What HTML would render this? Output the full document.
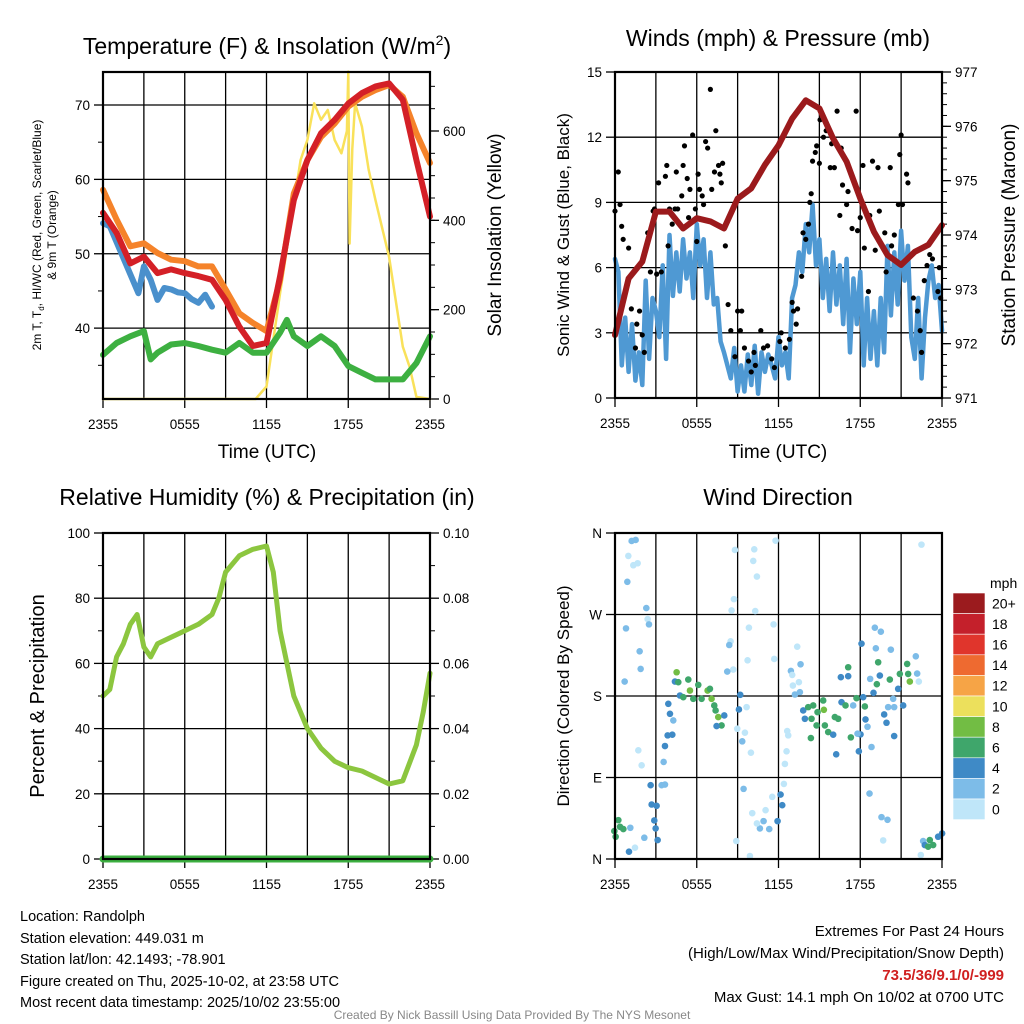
<!DOCTYPE html>
<html><head><meta charset="utf-8"><style>
html,body{margin:0;padding:0;background:#fff;}
svg{display:block;font-family:"Liberation Sans",Arial,sans-serif;}
</style></head><body>
<svg id="fig" width="1024" height="1024" viewBox="0 0 1024 1024" xmlns="http://www.w3.org/2000/svg">
<g id="bg"></g>
<text x="267" y="54" font-size="23" text-anchor="middle">Temperature (F) &amp; Insolation (W/m<tspan font-size="14" dy="-9">2</tspan><tspan dy="9">)</tspan></text>
<text x="778" y="46" font-size="23" text-anchor="middle">Winds (mph) &amp; Pressure (mb)</text>
<text x="267" y="505" font-size="23" text-anchor="middle">Relative Humidity (%) &amp; Precipitation (in)</text>
<text x="778" y="505" font-size="23" text-anchor="middle">Wind Direction</text>

<text transform="translate(41,235) rotate(-90)" font-size="12" text-anchor="middle">2m T, T<tspan font-size="8" dy="3">d</tspan><tspan dy="-3">, HI/WC (Red, Green, Scarlet/Blue)</tspan></text>
<text transform="translate(56,235) rotate(-90)" font-size="12" text-anchor="middle">&amp; 9m T (Orange)</text>
<text transform="translate(501,235) rotate(-90)" font-size="19" text-anchor="middle">Solar Insolation (Yellow)</text>
<text transform="translate(569,235) rotate(-90)" font-size="17" text-anchor="middle">Sonic Wind &amp; Gust (Blue, Black)</text>
<text transform="translate(1015,235) rotate(-90)" font-size="19" text-anchor="middle">Station Pressure (Maroon)</text>
<text transform="translate(44,696) rotate(-90)" font-size="20" text-anchor="middle">Percent &amp; Precipitation</text>
<text transform="translate(569,696) rotate(-90)" font-size="17" text-anchor="middle">Direction (Colored By Speed)</text>
<text x="267" y="458" font-size="19" text-anchor="middle">Time (UTC)</text>
<text x="778" y="458" font-size="19" text-anchor="middle">Time (UTC)</text>

<g font-size="14.5">
<text x="20" y="921">Location: Randolph</text>
<text x="20" y="943">Station elevation: 449.031 m</text>
<text x="20" y="964">Station lat/lon: 42.1493; -78.901</text>
<text x="20" y="986">Figure created on Thu, 2025-10-02, at 23:58 UTC</text>
<text x="20" y="1007">Most recent data timestamp: 2025/10/02 23:55:00</text>
</g>
<g font-size="15" text-anchor="end">
<text x="1004" y="936">Extremes For Past 24 Hours</text>
<text x="1004" y="958">(High/Low/Max Wind/Precipitation/Snow Depth)</text>
<text x="1004" y="980" fill="#d02020" font-weight="bold">73.5/36/9.1/0/-999</text>
<text x="1004" y="1002">Max Gust: 14.1 mph On 10/02 at 0700 UTC</text>
</g>
<text x="512" y="1019" font-size="12" fill="#888" text-anchor="middle">Created By Nick Bassill Using Data Provided By The NYS Mesonet</text>
<g id="plots"></g>
</svg>
<script>
// ---------- Data ----------
const xTickLabels = ["2355","0555","1155","1755","2355"];
const tempHours = [0,1,2,3,4,5,6,7,8,9,10,11,12,13,14,15,16,17,18,19,20,21,22,23,24];
const temp2m = [55.5,52.8,48.7,49.6,47.4,47.9,47.4,47.0,46.5,43.8,40.2,37.6,38.0,47.0,57.2,62.6,66.2,68.0,70.2,71.6,72.5,72.9,70.7,62.6,55.0];
const temp9m = [58.6,54.6,51.0,51.4,50.1,49.2,49.0,48.3,48.3,45.2,42.0,40.7,39.6,46.5,58.1,62.6,65.7,67.5,69.8,71.1,72.0,72.7,71.1,66.2,62.2];
const hiwcHours = [0,0.5,2.6,3,3.5,4,4.5,5,5.5,6,6.5,7,7.5,8];
const hiwc = [54.1,53.7,44.7,48.3,46.5,43.8,45.4,45.2,44.8,44.7,43.9,43.4,44.5,42.9];
const dewHours = [0,1,2,3,3.5,4,5,6,7,8,9,10,11,12,13,13.5,14,15,16,17,18,19,20,21,22,23,24];
const dewpoint = [36.4,38.0,38.9,39.6,35.8,36.7,37.8,38.0,37.6,37.1,36.7,38.0,36.7,36.7,39.4,41.1,38.9,37.6,38.9,37.6,34.9,34.0,33.1,33.1,33.1,35.3,38.9];
const solarHours = [0,11.2,12,13,14,14.5,15,15.5,16,16.5,17,17.5,17.9,18,18.1,18.3,18.5,19,19.5,20,21,22,22.5,23,24];
const solar = [0,0,28,237,438,535,580,662,625,647,580,550,600,733,348,560,662,610,513,445,318,117,72,5,0];

const windHours = [0,0.25,0.5,0.75,1,1.25,1.5,1.75,2,2.25,2.5,2.75,3,3.25,3.5,3.75,4,4.25,4.5,4.75,5,5.25,5.5,5.75,6,6.25,6.5,6.75,7,7.25,7.5,7.75,8,8.25,8.5,8.75,9,9.25,9.5,9.75,10,10.25,10.5,10.75,11,11.25,11.5,11.75,12,12.25,12.5,12.75,13,13.25,13.5,13.75,14,14.25,14.5,14.75,15,15.25,15.5,15.75,16,16.25,16.5,16.75,17,17.25,17.5,17.75,18,18.25,18.5,18.75,19,19.25,19.5,19.75,20,20.25,20.5,20.75,21,21.25,21.5,21.75,22,22.25,22.5,22.75,23,23.25,23.5,23.75,24];
const windSpeed = [6.4,5.8,1.5,3.7,1.2,3.4,0.8,2.1,0.6,5.4,1.8,4.6,4.0,2.8,6.1,1.8,7.5,4.7,6.7,4.9,7.3,5.5,6.7,4.6,8.0,6.1,7.3,4.6,6.7,4.3,4.6,2.6,2.1,1.5,0.9,2.3,0.3,1.5,0.3,2.0,0.6,2.4,0.2,2.1,1.2,2.0,1.5,0.9,2.8,1.5,2.1,0.9,4.6,5.2,6.7,5.8,8.0,6.7,8.9,6.1,7.3,4.6,6.4,4.0,6.7,4.3,6.1,3.4,6.4,2.1,5.5,3.4,5.8,1.5,4.6,1.8,4.0,1.5,4.6,2.1,7.0,3.8,6.7,4.3,7.7,5.4,7.0,2.8,1.8,4.6,0.9,3.7,5.4,6.1,4.6,5.2,3.1];
const gustHours = [0,0.24,0.37,0.49,0.6,1.0,1.2,1.6,1.8,2.0,1.5,2.15,2.4,2.6,2.8,2.9,3.06,3.2,3.4,3.7,3.8,3.9,4.0,4.2,4.4,4.5,4.6,4.9,5.0,5.1,5.3,5.4,5.5,5.7,5.9,6.0,6.1,6.2,6.4,6.5,6.65,6.8,7.0,7.1,7.3,7.4,7.6,7.7,7.8,7.9,8.1,8.3,8.5,8.8,9.0,9.3,9.2,9.5,9.8,10.0,10.2,10.3,10.7,10.9,11.2,11.5,11.7,12.1,12.2,12.5,12.8,13.0,13.1,13.3,13.4,13.7,13.8,14.0,14.2,14.3,14.4,14.5,14.7,14.8,15.0,15.05,15.3,15.5,15.8,15.9,16.1,16.3,16.5,16.6,16.7,17.0,17.1,17.4,17.7,17.8,18.0,18.2,18.3,18.6,18.7,18.9,19.1,19.3,19.4,19.8,19.9,20.2,20.3,20.5,20.8,20.9,21.0,21.1,21.4,21.5,21.9,22.2,22.4,22.5,22.7,22.9,23.1,23.3,23.7,23.8,23.9];
const gustSpeed = [8.6,10.4,8.9,7.9,7.3,6.9,4.1,3.4,4.0,2.9,2.3,2.1,7.6,5.8,8.6,8.7,5.7,9.9,5.8,10.2,10.7,7.0,8.7,8.0,8.7,10.4,8.7,9.3,10.7,11.6,10.1,8.3,9.6,12.1,8.7,7.2,10.3,9.6,9.3,8.9,11.8,11.5,14.2,9.6,10.4,12.3,10.7,10.3,9.9,10.8,7.0,4.3,3.1,1.9,4.0,4.0,3.1,2.3,1.7,1.2,2.1,1.5,3.1,2.3,2.4,1.8,1.4,2.6,3.0,2.3,2.7,4.4,4.0,3.4,4.1,5.6,7.6,7.3,8.0,9.0,9.4,10.9,11.3,11.6,10.8,12.8,12.0,12.3,10.6,11.7,10.6,13.2,8.4,11.5,9.8,8.9,9.5,7.8,13.2,7.7,8.3,10.7,6.9,4.9,8.4,10.9,6.8,10.6,8.6,7.6,5.8,10.6,7.0,7.5,8.9,11.2,12.1,8.9,10.3,9.9,4.6,4.0,3.1,2.1,5.4,6.1,6.6,6.4,4.9,6.0,4.6];
const presHours = [0,1,2,3,4,5,6,7,8,9,10,11,12,13,14,15,16,17,18,19,20,21,22,23,24];
const pressure = [972.16,973.2,973.51,974.43,974.43,974.12,974.31,974.25,974.12,974.67,974.86,975.29,975.65,976.14,976.48,976.33,975.78,975.35,974.67,974.06,973.63,973.45,973.69,973.82,974.18];

const rhHours = [0,0.5,1,1.5,2,2.5,3,3.5,4,5,6,7,8,8.5,9,10,11,12,12.5,13,14,15,16,17,18,19,20,21,22,23,23.5,24];
const rh = [50,52,62,66,72,75,65,62,66,68,70,72,75,80,88,93,95,96,88,70,50,40,34,30,28,27,25,23,24,35,45,57];
const precipHours = [0,24];
const precip = [0,0];

const dirZx = [70,82,60,75,88,57,114,118,122,53,94,97,49,205,200,210,240,215,225,245,255,270,280,298,305,310,318,322,330,340,325,348,180,185,195,178,192,170,166,90,100,127,160,170,130,145,138,142,148,108,80,66,62,30,35,45,18,22,380,438,502,435,446,377,370,441,422,496,367,363,418,498,375,357,396,392,415,387,410,402,428,406,517,492,522,472,466,455,483,508,432,446,384,425,527,530,535,540,537,567,577,548,552,572,554,575,560,585,600,615,645,590,610,628,647,625,650,660,675,680,690,608,684,698,720,720,700,712,735,745,765,770,757,728,752,748,790,760,800,818,803,848,786,810,815,806,796,845,875,897,900,905,923,927,932,870,855,840,858,885,772,778,828,835,858,784,820,838,825,940,938,945,950,965,975,990,1002,960];
const dirHours = dirZx.map(z => (z - 20) / 40.9);
const dirZy = [45,42,90,118,112,168,247,280,296,308,377,430,468,440,468,470,462,510,515,495,520,478,520,495,490,520,540,555,575,600,602,570,535,565,585,630,628,662,710,675,720,780,780,778,838,842,886,910,945,938,968,908,980,885,905,912,918,935,72,70,44,105,152,220,254,256,306,296,347,358,404,400,432,438,508,552,545,610,622,648,682,791,808,815,840,855,888,910,912,888,864,895,948,993,776,716,678,630,617,363,416,436,448,470,480,500,507,555,545,540,525,580,580,560,553,600,600,620,628,575,580,638,687,455,452,425,530,540,540,518,515,543,627,636,678,625,665,354,306,318,368,372,460,410,450,476,502,462,445,415,445,468,392,444,468,490,520,545,545,540,582,604,567,592,632,805,876,884,946,56,990,948,960,945,960,935,925,965];
const dirDegrees = dirZy.map(z => (1002 - z) * 360 / 981);
const dirSpeed = [3,3,1,1,1,3,3,1,3,3,3,3,3,9,5,7,7,5,7,9,7,7,7,9,7,9,7,7,9,7,5,5,5,5,3,5,5,5,3,1,1,5,3,3,5,5,5,5,5,3,1,3,5,7,7,7,7,7,1,1,1,1,1,1,1,1,1,1,1,3,1,1,1,3,5,5,1,1,1,3,1,3,5,1,5,1,3,3,3,5,1,1,1,1,1,1,1,1,1,1,3,3,1,1,1,3,3,5,7,7,7,5,7,7,9,7,7,7,5,7,7,7,5,5,5,7,5,7,3,7,5,7,5,7,5,3,3,5,3,3,3,3,3,7,5,7,5,7,7,7,7,9,3,3,1,5,3,3,3,5,5,3,5,5,5,3,3,3,1,1,1,3,5,7,7,5,5,7];
const colorbarLabels = ["20+","18","16","14","12","10","8","6","4","2","0"];
const colorbarColors = ["#9b1b1e","#c4202b","#e0352c","#ee6a30","#f6a446","#ece05c","#72bd44","#3fa66b","#3f8ac6","#7dbce8","#bfe6f9"];

// ---------- helpers ----------
const NS = "http://www.w3.org/2000/svg";
const root = document.getElementById("plots");
function mk(tag, attrs, parent) {
  const e = document.createElementNS(NS, tag);
  for (const k in attrs) e.setAttribute(k, attrs[k]);
  (parent || root).appendChild(e);
  return e;
}
function linScale(d0, d1, r0, r1) { return v => r0 + (v - d0) * (r1 - r0) / (d1 - d0); }

function frame(x0, x1, y0, y1, hLines, name) {
  const g = mk("g", {});
  
  
  const xs = linScale(0, 24, x0, x1);
  for (let h = 3; h < 24; h += 3) {
    const l = mk("line", {x1: xs(h), x2: xs(h), y1: y0, y2: y1, stroke: "#000", "stroke-width": 1.3}, g);
    
    
  }
  hLines.forEach(y => {
    const l = mk("line", {x1: x0, x2: x1, y1: y, y2: y, stroke: "#000", "stroke-width": 1.3}, g);
    
    
  });
  xTickLabels.forEach((t, i) => {
    const tx = mk("text", {x: xs(i * 6), y: y1 + 30, "font-size": 13.5, "text-anchor": "middle"}, g);
    tx.textContent = t;
    
    
    const tk = mk("line", {x1: xs(i * 6), x2: xs(i * 6), y1: y1, y2: y1 + 9, stroke: "#000", "stroke-width": 1.3}, g);
    
    
  });
  return {g, xs};
}
function border(x0, x1, y0, y1) {
  const r = mk("rect", {x: x0, y: y0, width: x1 - x0, height: y1 - y0, fill: "none", stroke: "#000", "stroke-width": 2.2});
  
  
}
function yAxis(x, side, ys, ticks, labels, minors) {
  const dir = side === "left" ? -1 : 1;
  ticks.forEach((v, i) => {
    const y = ys(v);
    const tk = mk("line", {x1: x, x2: x + dir * 9, y1: y, y2: y, stroke: "#000", "stroke-width": 1.3});
    
    
    const tx = mk("text", {x: x + dir * 13, y: y + 5, "font-size": 13.5, "text-anchor": side === "left" ? "end" : "start"});
    tx.textContent = labels[i];
    
    
  });
  (minors || []).forEach(v => {
    const y = ys(v);
    const tk = mk("line", {x1: x, x2: x + dir * 5, y1: y, y2: y, stroke: "#000", "stroke-width": 1});
    
    
  });
}
function line(hours, vals, xs, ys, color, w, name) {
  let d = "";
  let pen = false;
  hours.forEach((h, i) => {
    const v = vals[i];
    if (v === null) { pen = false; return; }
    d += (pen ? "L" : "M") + xs(h).toFixed(1) + "," + ys(v).toFixed(1);
    pen = true;
  });
  const p = mk("path", {d: d, fill: "none", stroke: color, "stroke-width": w, "stroke-linejoin": "round", "stroke-linecap": "round"});
  
  
  return p;
}
function range(a, b, s) { const r = []; for (let v = a; v <= b + 1e-9; v += s) r.push(+v.toFixed(4)); return r; }

// ---------- Panel 1: temperature ----------
{
  const x0 = 103, x1 = 430, y0 = 72, y1 = 399;
  const ys = linScale(30, 70, 402.5, 105);
  const ysR = linScale(0, 600, 399, 131);
  const f = frame(x0, x1, y0, y1, [70, 60, 50, 40].map(ys), "temperature-grid");
  const xs = f.xs;
  yAxis(x0, "left", ys, [40, 50, 60, 70], ["40", "50", "60", "70"], [35, 45, 55, 65]);
  yAxis(x1, "right", ysR, [0, 200, 400, 600], ["0", "200", "400", "600"], range(50, 700, 50));
  line(solarHours, solar, xs, ysR, "#f9e15a", 2.5, "solar-insolation-line");
  line(dewHours, dewpoint, xs, ys, "#3db041", 6, "dewpoint-line");
  line(tempHours, temp9m, xs, ys, "#f5832a", 6, "temp-9m-line");
  line(hiwcHours, hiwc, xs, ys, "#4a90cc", 6, "heat-index-windchill-line");
  line(tempHours, temp2m, xs, ys, "#d42027", 6, "temp-2m-line");
  border(x0, x1, y0, y1);
}
// ---------- Panel 2: wind ----------
{
  const x0 = 615, x1 = 942, y0 = 72, y1 = 398;
  const ys = linScale(0, 15, 398, 72);
  const ysR = linScale(971, 977, 398, 72);
  const f = frame(x0, x1, y0, y1, [3, 6, 9, 12].map(ys), "wind-grid");
  const xs = f.xs;
  yAxis(x0, "left", ys, [0, 3, 6, 9, 12, 15], ["0", "3", "6", "9", "12", "15"], []);
  yAxis(x1, "right", ysR, [971, 972, 973, 974, 975, 976, 977], ["971", "972", "973", "974", "975", "976", "977"], range(971.2, 976.8, 0.2));
  line(windHours, windSpeed, xs, ys, "#4f99d3", 4.5, "sonic-wind-line");
  gustHours.forEach((h, i) => {
    const c = mk("circle", {cx: xs(h), cy: ys(gustSpeed[i]), r: 2.6, fill: "#000"});
    
    
  });
  line(presHours, pressure, xs, ysR, "#9b1a1c", 6, "pressure-line");
  border(x0, x1, y0, y1);
}
// ---------- Panel 3: humidity ----------
{
  const x0 = 103, x1 = 430, y0 = 533, y1 = 859;
  const ys = linScale(0, 100, 859, 533);
  const ysR = linScale(0, 0.1, 859, 533);
  const f = frame(x0, x1, y0, y1, [20, 40, 60, 80].map(ys), "humidity-grid");
  const xs = f.xs;
  yAxis(x0, "left", ys, [0, 20, 40, 60, 80, 100], ["0", "20", "40", "60", "80", "100"], [10, 30, 50, 70, 90]);
  yAxis(x1, "right", ysR, [0, 0.02, 0.04, 0.06, 0.08, 0.1], ["0.00", "0.02", "0.04", "0.06", "0.08", "0.10"], range(0.01, 0.09, 0.02));
  line(rhHours, rh, xs, ys, "#8cc63f", 5, "relative-humidity-line");
  line(precipHours, precip, xs, ysR, "#3db041", 7, "precipitation-line");
  border(x0, x1, y0, y1);
}
// ---------- Panel 4: direction ----------
{
  const x0 = 615, x1 = 942, y0 = 533, y1 = 859;
  const ys = linScale(0, 360, 859, 533);
  const f = frame(x0, x1, y0, y1, [90, 180, 270].map(ys), "direction-grid");
  const xs = f.xs;
  yAxis(x0, "left", ys, [0, 90, 180, 270, 360], ["N", "E", "S", "W", "N"], []);
  function speedColor(s) {
    let idx = 10 - Math.min(10, Math.floor(s / 2));
    return colorbarColors[idx];
  }
  dirHours.forEach((h, i) => {
    const c = mk("circle", {cx: xs(h), cy: ys(dirDegrees[i]), r: 3.3, fill: speedColor(dirSpeed[i])});
    
    
  });
  border(x0, x1, y0, y1);
  const t = mk("text", {x: 990, y: 588, "font-size": 14, "text-anchor": "start"});
  t.textContent = "mph";
  
  
  const bh = 20.6;
  colorbarLabels.forEach((lab, i) => {
    const r = mk("rect", {x: 953, y: 593 + i * bh, width: 32, height: bh, fill: colorbarColors[i], stroke: "#fff", "stroke-width": 0.6});
    
    
    const tx = mk("text", {x: 992, y: 593 + i * bh + bh / 2 + 5, "font-size": 14});
    tx.textContent = lab;
    
    
  });
}
</script>
</body></html>
